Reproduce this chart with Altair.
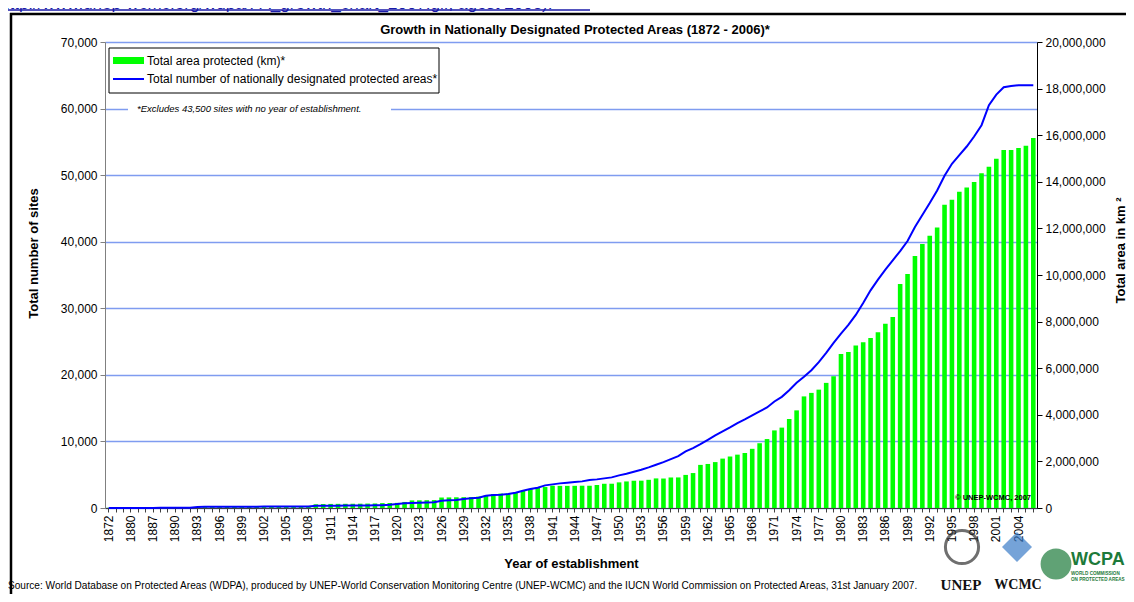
import altair as alt
import pandas as pd

# ---------------- data ----------------
years = [1872, 1875, 1879, 1880, 1883, 1885] + list(range(1887, 2007))

area_km2 = [
    9000, 9000, 12000, 12000, 14000, 22000,
    24000, 25000, 25000, 30000, 30000, 31000, 35000, 38000, 40000, 41000,
    42000, 44000, 45000, 46000, 47000, 48000, 50000, 52000, 55000, 58000,
    62000, 65000, 160000, 170000, 175000, 178000, 180000, 182000, 185000, 190000,
    195000, 210000, 215000, 220000, 260000, 326000, 330000, 335000, 340000, 450000,
    455000, 460000, 465000, 470000, 490000, 530000, 600000, 620000, 625000, 650000,
    742000, 815000, 858000, 900000, 957000, 950000, 950000, 952000, 957000, 955000,
    987000, 1040000, 1042000, 1100000, 1140000, 1170000, 1172000, 1210000, 1270000, 1265000,
    1310000, 1312000, 1420000, 1500000, 1850000, 1890000, 1970000, 2120000, 2210000, 2290000,
    2360000, 2540000, 2780000, 2960000, 3330000, 3450000, 3820000, 4190000, 4790000, 4940000,
    5080000, 5370000, 5650000, 6610000, 6700000, 6970000, 7110000, 7300000, 7540000, 7910000,
    8200000, 9610000, 10040000, 10820000, 11330000, 11680000, 12040000, 13010000, 13230000, 13570000,
    13760000, 13990000, 14370000, 14650000, 14990000, 15360000, 15360000, 15450000, 15550000, 15880000,
]

sites = [
    1, 2, 4, 6, 9, 14,
    18, 22, 26, 30, 40, 55, 160, 170, 175, 180,
    185, 190, 195, 200, 205, 210, 215, 220, 225, 230,
    235, 240, 330, 340, 350, 355, 360, 370, 380, 390,
    410, 430, 500, 600, 700, 750, 780, 810, 850, 1100,
    1150, 1200, 1350, 1450, 1550, 1850, 1950, 2000, 2100, 2300,
    2600, 2850, 3050, 3400, 3550, 3700, 3800, 3900, 4000, 4200,
    4300, 4450, 4600, 4900, 5150, 5450, 5750, 6100, 6500, 6900,
    7350, 7800, 8500, 9000, 9600, 10250, 10900, 11500, 12100, 12750,
    13300, 13900, 14500, 15100, 16000, 16700, 17700, 18800, 19700, 20700,
    21900, 23300, 24800, 26200, 27500, 29000, 30800, 32700, 34300, 35800,
    37200, 38600, 40100, 42200, 44000, 45800, 47700, 49900, 51700, 53000,
    54300, 55800, 57500, 60500, 62100, 63200, 63400, 63500, 63500, 63500,
]

left_ticks = [0, 10000, 20000, 30000, 40000, 50000, 60000, 70000]
right_ticks = [0, 2000000, 4000000, 6000000, 8000000, 10000000,
               12000000, 14000000, 16000000, 18000000, 20000000]

title_text = "Growth in Nationally Designated Protected Areas (1872 - 2006)*"
legend_labels = ["Total area protected (km)*",
                 "Total number of nationally designated protected areas*"]
footnote = "*Excludes 43,500 sites with no year of establishment."
copyright_text = "\u00a9 UNEP-WCMC, 2007"
source_text = ("Source: World Database on Protected Areas (WDPA), produced by UNEP-World "
               "Conservation Monitoring Centre (UNEP-WCMC) and the IUCN World Commission "
               "on Protected Areas, 31st January 2007.")
link_text = "http://www.unep-wcmc.org/wdpa/PA_growth_chart_2007.gif, agost 2008)."

df = pd.DataFrame({"year": years, "area": area_km2, "sites": sites})

FONT = "Liberation Sans"
GREEN = "#00ff00"
BLUE = "#0000ff"
GRID = "#7f9cf0"

W, H = 932, 466

label_expr = ("(datum.value >= 1887 ? (datum.value - 1887) % 3 == 0 : "
              "(datum.value == 1872 || datum.value == 1880)) ? datum.label : ''")

x_enc = alt.X(
    "year:O",
    title="Year of establishment",
    scale=alt.Scale(paddingInner=0.38, paddingOuter=0.19),
    axis=alt.Axis(
        labelAngle=270, labelAlign="right", labelBaseline="middle",
        labelOverlap=False, labelExpr=label_expr, labelFontSize=12,
        labelColor="#000000", labelPadding=3, tickSize=4,
        tickColor="#404040", domainColor="#404040",
        titleFontSize=13, titleFontWeight="bold", titleColor="#000000",
        titleX=466, titleY=55, titleBaseline="middle", titleAlign="center",
    ),
)

bars = alt.Chart(df).mark_bar(color=GREEN).encode(
    x=x_enc,
    y=alt.Y(
        "area:Q",
        scale=alt.Scale(domain=[0, 20000000], nice=False),
        axis=alt.Axis(
            orient="right", values=right_ticks, format=",.0f", grid=False,
            labelFontSize=12, labelColor="#000000", labelPadding=3, tickSize=5,
            tickColor="#000000", domainColor="#000000",
            title="Total area in km \u00b2", titleFontSize=13, titleFontWeight="bold",
            titleColor="#000000", titleAngle=270, titleX=83, titleY=208,
            titleAlign="center", titleBaseline="middle",
        ),
    ),
)

line = alt.Chart(df).mark_line(color=BLUE, strokeWidth=2).encode(
    x=x_enc,
    y=alt.Y(
        "sites:Q",
        scale=alt.Scale(domain=[0, 70000], nice=False),
        axis=alt.Axis(
            orient="left", values=left_ticks, format=",.0f", grid=True,
            gridColor=GRID, gridWidth=1.5,
            labelFontSize=12, labelColor="#000000", labelPadding=3, tickSize=5,
            tickColor="#808080", domainColor="#808080",
            title="Total number of sites", titleFontSize=13, titleFontWeight="bold",
            titleColor="#000000", titleAngle=270, titleX=-72, titleY=211,
            titleAlign="center", titleBaseline="middle",
        ),
    ),
)

one = alt.Data(values=[{"k": 1}])

# footnote with white background over the 60,000 gridline
foot_bg = alt.Chart(one).mark_rect(fill="white").encode(
    x=alt.value(23), x2=alt.value(286), y=alt.value(60), y2=alt.value(73))
foot_txt = alt.Chart(one).mark_text(
    align="left", baseline="middle", fontSize=9.5, fontStyle="italic", font=FONT,
    color="#000000").encode(x=alt.value(32), y=alt.value(66.5), text=alt.value(footnote))

# legend box
leg_box = alt.Chart(one).mark_rect(fill="white", stroke="#000000", strokeWidth=1).encode(
    x=alt.value(4), x2=alt.value(334), y=alt.value(6), y2=alt.value(51))
leg_sw = alt.Chart(one).mark_rect(fill=GREEN).encode(
    x=alt.value(8), x2=alt.value(39), y=alt.value(15), y2=alt.value(22))
leg_ln = alt.Chart(one).mark_rule(color=BLUE, strokeWidth=2).encode(
    x=alt.value(8), x2=alt.value(39), y=alt.value(37))
leg_t1 = alt.Chart(one).mark_text(align="left", baseline="middle", fontSize=12, font=FONT,
                                  color="#000000").encode(
    x=alt.value(42), y=alt.value(18.5), text=alt.value(legend_labels[0]))
leg_t2 = alt.Chart(one).mark_text(align="left", baseline="middle", fontSize=12, font=FONT,
                                  color="#000000").encode(
    x=alt.value(42), y=alt.value(37), text=alt.value(legend_labels[1]))

copy_txt = alt.Chart(one).mark_text(align="right", baseline="middle", fontSize=7.5,
                                    fontWeight="bold", font=FONT, color="#000000").encode(
    x=alt.value(926), y=alt.value(456), text=alt.value(copyright_text))

# title
title_txt = alt.Chart(one).mark_text(align="center", baseline="middle", fontSize=13,
                                     fontWeight="bold", font=FONT, color="#000000").encode(
    x=alt.value(470), y=alt.value(-12), text=alt.value(title_text))

# frame
frame_left = alt.Chart(one).mark_rule(color="#000000", strokeWidth=2.5).encode(
    x=alt.value(-94), y=alt.value(-29), y2=alt.value(560))
frame_top = alt.Chart(one).mark_rule(color="#000000", strokeWidth=2.5).encode(
    x=alt.value(-95), x2=alt.value(1030), y=alt.value(-28))

# link text at very top (cut off by the page edge, as in the reference)
link_txt = alt.Chart(one).mark_text(align="left", baseline="alphabetic", fontSize=17,
                                    font=FONT, color="#1a1aa8").encode(
    x=alt.value(-105), y=alt.value(-33), text=alt.value(link_text))
link_ul = alt.Chart(one).mark_rule(color="#1a1aa8", strokeWidth=1.5).encode(
    x=alt.value(-105), x2=alt.value(485), y=alt.value(-32))

# source line
src_txt = alt.Chart(one).mark_text(align="left", baseline="middle", fontSize=10.1,
                                   font=FONT, color="#000000").encode(
    x=alt.value(-97), y=alt.value(544), text=alt.value(source_text))

# logos (approximate, as shapes and text)
unep_circle = alt.Chart(one).mark_point(shape="circle", filled=False, size=1100,
                                        color="#333333", strokeWidth=3).encode(
    x=alt.value(857), y=alt.value(505))
unep_txt = alt.Chart(one).mark_text(align="center", baseline="middle", fontSize=15,
                                    fontWeight="bold", font="Liberation Serif",
                                    color="#111111").encode(
    x=alt.value(856), y=alt.value(543), text=alt.value("UNEP"))
wcmc_shape = alt.Chart(one).mark_point(shape="diamond", filled=True, size=900,
                                       color="#3a7cc8").encode(
    x=alt.value(912), y=alt.value(505))
wcmc_txt = alt.Chart(one).mark_text(align="center", baseline="middle", fontSize=14,
                                    fontWeight="bold", font="Liberation Serif",
                                    color="#111111").encode(
    x=alt.value(913), y=alt.value(543), text=alt.value("WCMC"))
wcpa_circle = alt.Chart(one).mark_point(shape="circle", filled=True, size=950,
                                        color="#1d7a3a").encode(
    x=alt.value(951), y=alt.value(522))
wcpa_txt = alt.Chart(one).mark_text(align="left", baseline="middle", fontSize=18,
                                    fontWeight="bold", font=FONT,
                                    color="#1d7a3a").encode(
    x=alt.value(966), y=alt.value(518), text=alt.value("WCPA"))
wcpa_s1 = alt.Chart(one).mark_text(align="left", baseline="middle", fontSize=4.6,
                                   fontWeight="bold", font=FONT,
                                   color="#1d7a3a").encode(
    x=alt.value(966), y=alt.value(532), text=alt.value("WORLD COMMISSION"))
wcpa_s2 = alt.Chart(one).mark_text(align="left", baseline="middle", fontSize=4.6,
                                   fontWeight="bold", font=FONT,
                                   color="#1d7a3a").encode(
    x=alt.value(966), y=alt.value(538), text=alt.value("ON PROTECTED AREAS"))

chart = alt.layer(
    bars, line,
    foot_bg, foot_txt,
    leg_box, leg_sw, leg_ln, leg_t1, leg_t2,
    copy_txt, title_txt, frame_left, frame_top, link_txt, link_ul, src_txt,
    unep_circle, unep_txt, wcmc_shape, wcmc_txt, wcpa_circle, wcpa_txt, wcpa_s1, wcpa_s2,
).resolve_scale(
    y="independent"
).properties(
    width=W, height=H,
    autosize=alt.AutoSizeParams(type="none"),
    padding={"left": 97, "top": 34, "right": 89, "bottom": 86},
    background="white",
).configure_view(
    stroke=None
).configure(
    font=FONT
)

chart.save("out.html", embed_options={"renderer": "svg", "actions": False})
